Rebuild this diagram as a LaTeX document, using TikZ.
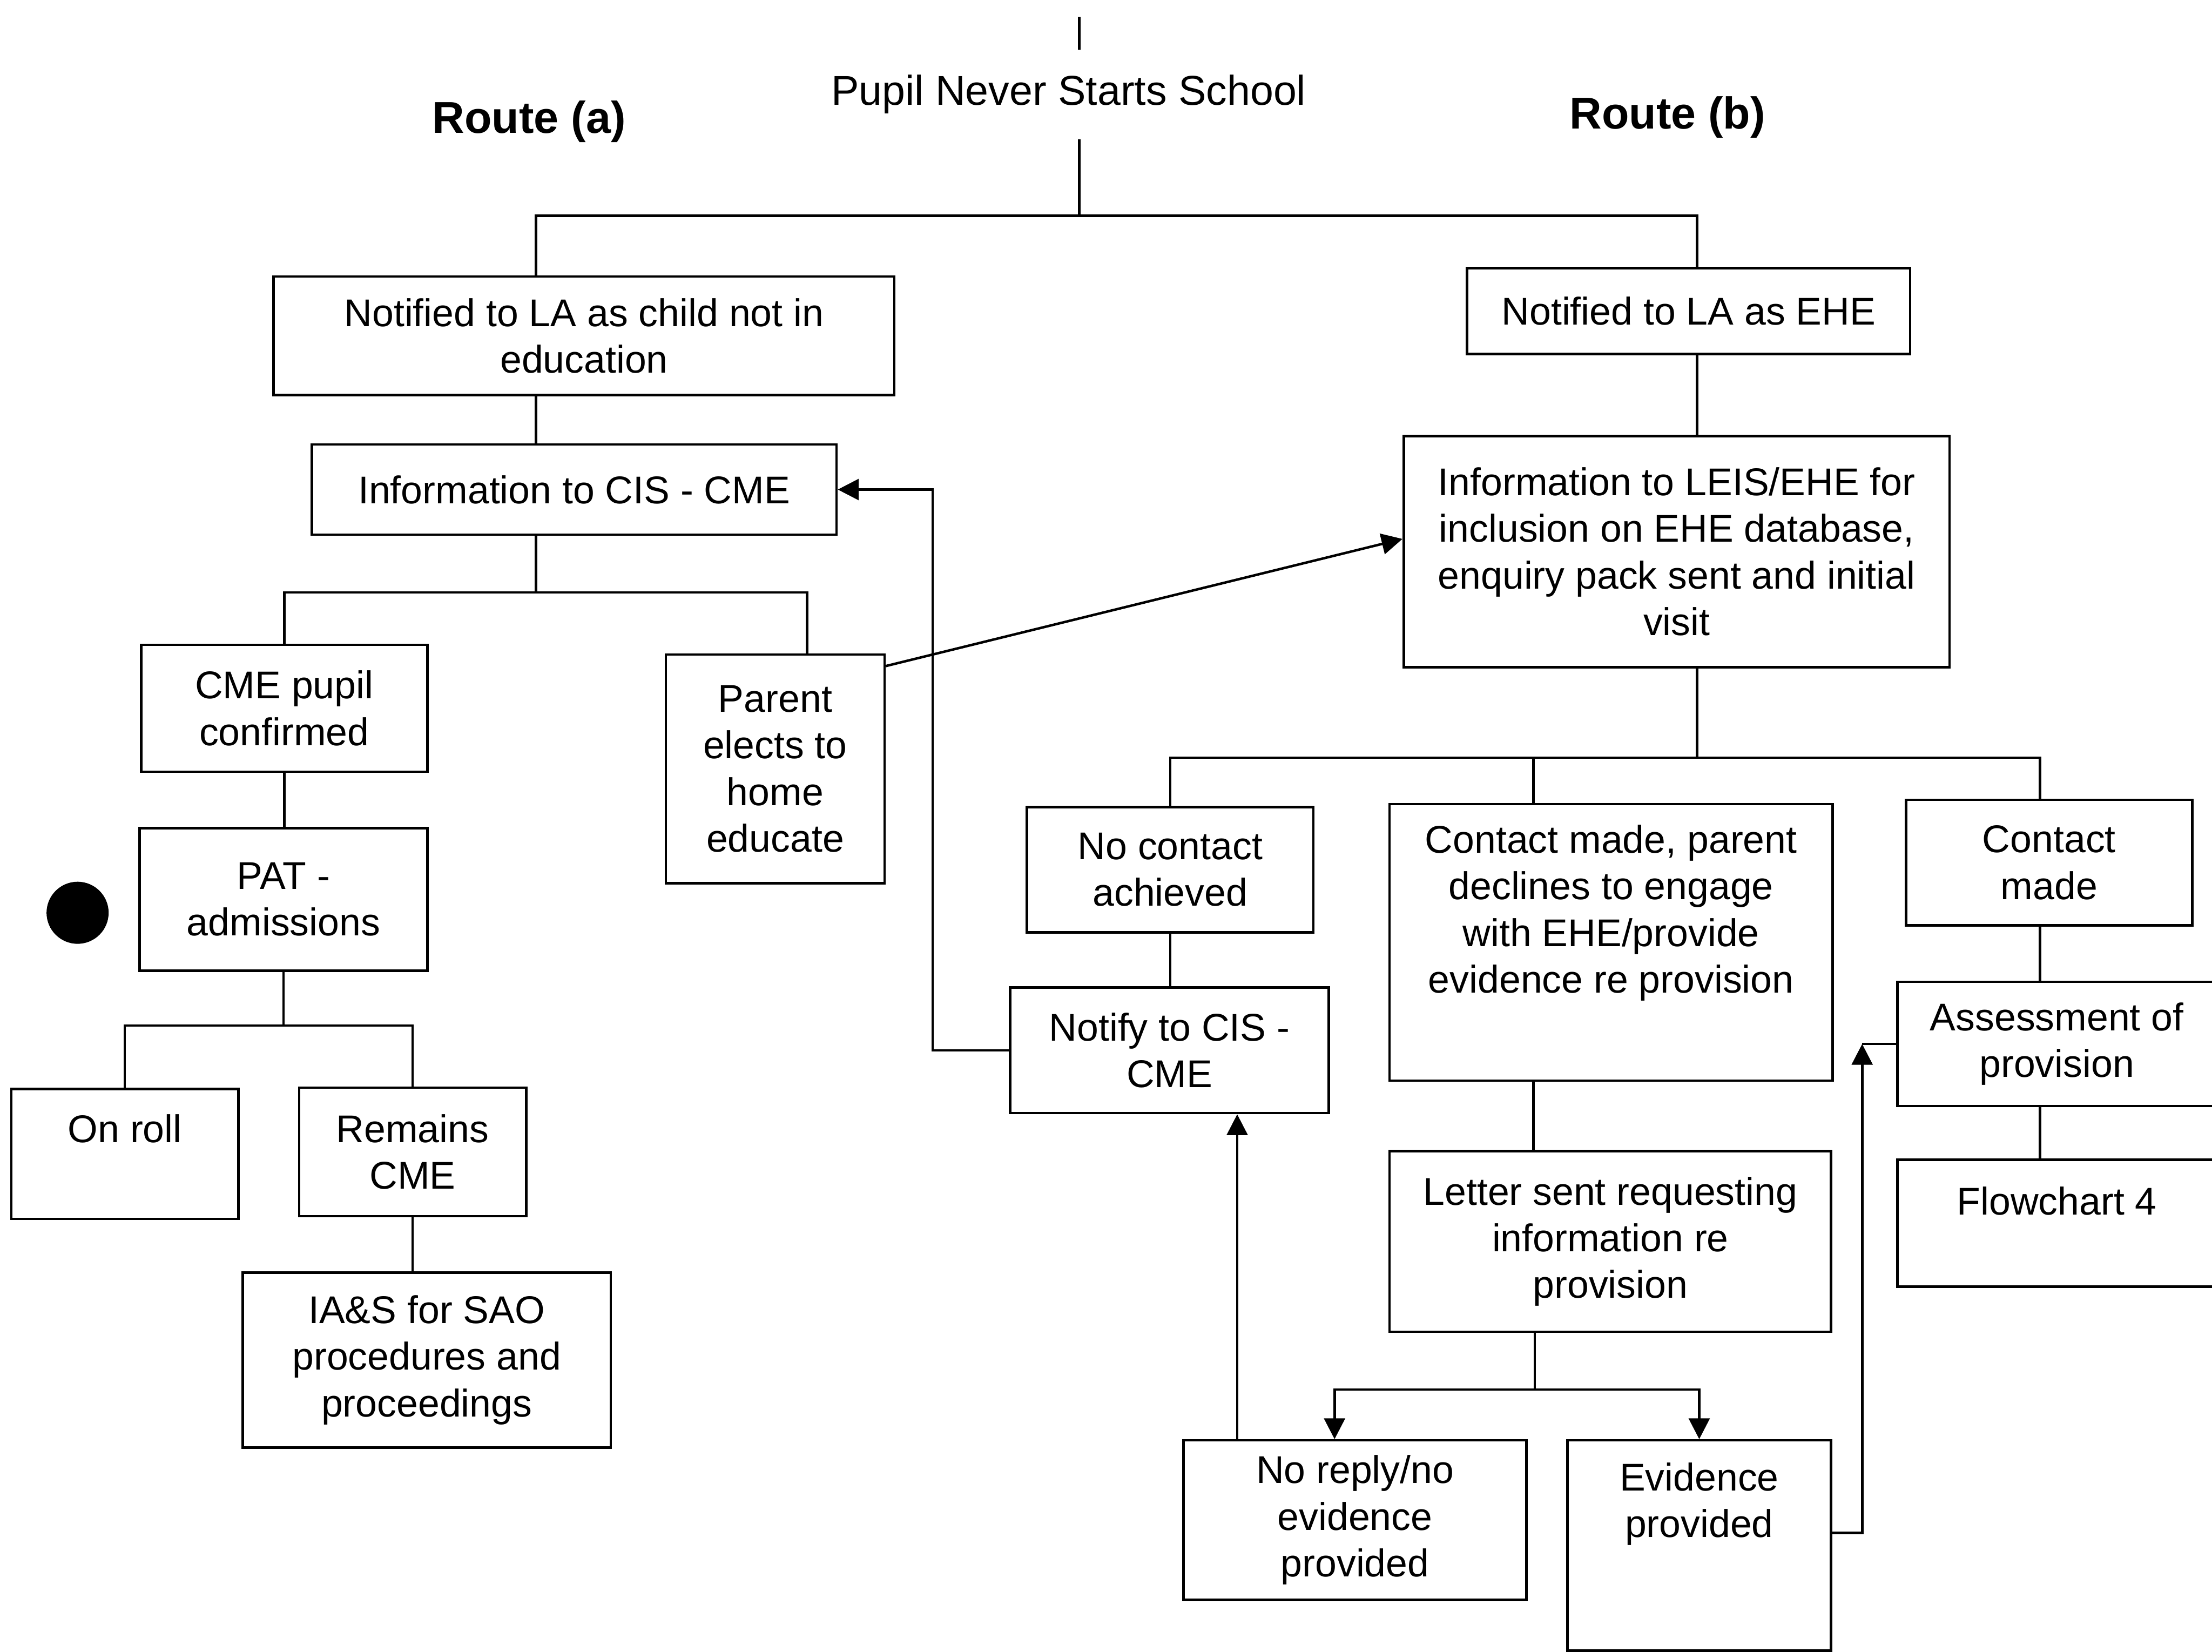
\documentclass[tikz,border=0pt]{standalone}
\usepackage{fontspec}
\setmainfont{Liberation Sans}
\usetikzlibrary{arrows.meta}

\begin{document}
\begin{tikzpicture}[line width=0.5pt,
    box/.style={draw, align=center, inner sep=0pt, font=\fontsize{7.8}{9.4}\selectfont},
    route/.style={font=\fontsize{9}{11}\selectfont\bfseries},
    arr/.style={-{Triangle[length=4.2pt, width=4.2pt]}}]
    \useasboundingbox (0,0) rectangle (15.68,-11.71);

    % Start of the chart
    \node[font=\fontsize{8.4}{10}\selectfont, minimum height=0.62cm, inner sep=0pt] (pupil) at (7.575,-0.67) {Pupil Never Starts School};
    \coordinate (entry) at (7.65,-0.12);
    \coordinate (split) at (7.65,-1.53);
    \draw (entry) -- (entry |- pupil.north);
    \draw (entry |- pupil.south) -- (split);

    % Route headings
    \node[route] (routeA) at (3.75,-0.86) {Route (a)};
    \node[route] (routeB) at (11.82,-0.83) {Route (b)};

    % Spines and junctions
    \coordinate (xa) at (3.80,0);
    \coordinate (xb) at (12.03,0);
    \coordinate (xp) at (5.72,0);
    \coordinate (xd) at (10.87,0);
    \coordinate (xm) at (14.46,0);
    \coordinate (xn) at (9.46,0);
    \coordinate (xr) at (8.77,0);
    \coordinate (jA) at (3.80,-4.20);
    \coordinate (jB) at (2.01,-7.27);
    \coordinate (jC) at (12.03,-5.37);
    \coordinate (jD) at (10.88,-9.85);
    \coordinate (bend) at (13.20,-7.40);

    % Route (a) boxes
    \node[box, minimum width=4.40cm, minimum height=0.84cm] (notifyCME) at (4.14,-2.38) {Notified to LA as child not in\\education};
    \node[box, minimum width=3.72cm, minimum height=0.64cm] (infoCIS) at (4.07,-3.47) {Information to CIS - CME};
    \node[box, minimum width=2.03cm, minimum height=0.90cm] (cmePupil) at (2.015,-5.02) {CME pupil\\confirmed};
    \node[box, minimum width=1.55cm, minimum height=1.62cm] (parentHE) at (5.495,-5.45) {Parent\\elects to\\home\\educate};
    \node[box, minimum width=2.04cm, minimum height=1.01cm] (patAdm) at (2.01,-6.375) {PAT -\\admissions};
    \node[circle, fill, inner sep=0pt, minimum size=0.44cm] (dot) at (0.55,-6.47) {};
    \node[box, minimum width=1.61cm, minimum height=0.92cm, text depth=0.36cm] (onRoll) at (0.885,-8.18) {On roll};
    \node[box, minimum width=1.61cm, minimum height=0.91cm] (remainsCME) at (2.925,-8.165) {Remains\\CME};
    \node[box, minimum width=2.61cm, minimum height=1.24cm] (iasSAO) at (3.025,-9.64) {IA\&S for SAO\\procedures and\\proceedings};

    % Route (b) boxes
    \node[box, minimum width=3.14cm, minimum height=0.61cm] (notifyEHE) at (11.97,-2.205) {Notified to LA as EHE};
    \node[box, minimum width=3.87cm, minimum height=1.64cm] (infoLEIS) at (11.885,-3.91) {Information to LEIS/EHE for\\inclusion on EHE database,\\enquiry pack sent and initial\\visit};
    \node[box, minimum width=2.03cm, minimum height=0.89cm] (noContact) at (8.295,-6.165) {No contact\\achieved};
    \node[box, minimum width=3.14cm, minimum height=1.96cm, text depth=0.475cm] (declines) at (11.42,-6.68) {Contact made, parent\\declines to engage\\with EHE/provide\\evidence re provision};
    \node[box, minimum width=2.03cm, minimum height=0.89cm] (contactMade) at (14.525,-6.115) {Contact\\made};
    \node[box, minimum width=2.26cm, minimum height=0.89cm] (notifyCIS) at (8.29,-7.445) {Notify to CIS -\\CME};
    \node[box, minimum width=2.26cm, minimum height=0.88cm] (assessProv) at (14.58,-7.40) {Assessment of\\provision};
    \node[box, minimum width=3.13cm, minimum height=1.28cm] (letterSent) at (11.415,-8.80) {Letter sent requesting\\information re\\provision};
    \node[box, minimum width=2.26cm, minimum height=0.90cm, text depth=0.32cm] (flowFour) at (14.58,-8.67) {Flowchart 4};
    \node[box, minimum width=2.43cm, minimum height=1.13cm] (noReply) at (9.605,-10.775) {No reply/no\\evidence\\provided};
    \node[box, minimum width=1.87cm, minimum height=1.49cm, text depth=0.646cm] (evidence) at (12.045,-10.955) {Evidence\\provided};

    % Top split into both routes
    \draw (notifyCME.north -| xa) |- (split) -| (notifyEHE.north -| xb);

    % Route (a) links
    \draw (notifyCME.south -| xa) -- (infoCIS.north -| xa);
    \draw (infoCIS.south -| xa) -- (jA);
    \draw (cmePupil.north) |- (jA) -| (parentHE.north -| xp);
    \draw (cmePupil.south) -- (cmePupil.south |- patAdm.north);
    \draw (patAdm.south) -- (jB);
    \draw (onRoll.north) |- (jB) -| (remainsCME.north);
    \draw (remainsCME.south) -- (remainsCME.south |- iasSAO.north);

    % Route (b) links
    \draw (notifyEHE.south -| xb) -- (infoLEIS.north -| xb);
    \draw (infoLEIS.south -| xb) -- (jC);
    \draw (noContact.north) |- (jC) -| (contactMade.north -| xm);
    \draw (declines.north -| xd) -- (jC -| xd);
    \draw (noContact.south) -- (noContact.south |- notifyCIS.north);
    \draw (declines.south -| xd) -- (letterSent.north -| xd);
    \draw (contactMade.south -| xm) -- (assessProv.north -| xm);
    \draw (assessProv.south -| xm) -- (flowFour.north -| xm);
    \draw (letterSent.south -| jD) -- (jD);
    \draw[arr] (jD) -| (noReply.north -| xn);
    \draw[arr] (jD) -| (evidence.north);

    % Cross links between the routes
    \draw[arr] (noReply.north -| xr) -- (notifyCIS.south -| xr);
    \draw[arr] (notifyCIS.west) -- ++(-0.54,0) |- (infoCIS.east);
    \draw[arr] ([yshift=-0.09cm]parentHE.north east) -- ([yshift=0.09cm]infoLEIS.west);
    \draw[arr] ([yshift=0.09cm]evidence.east) -| (bend);
    \draw (bend) -- (assessProv.west);
\end{tikzpicture}
\end{document}
